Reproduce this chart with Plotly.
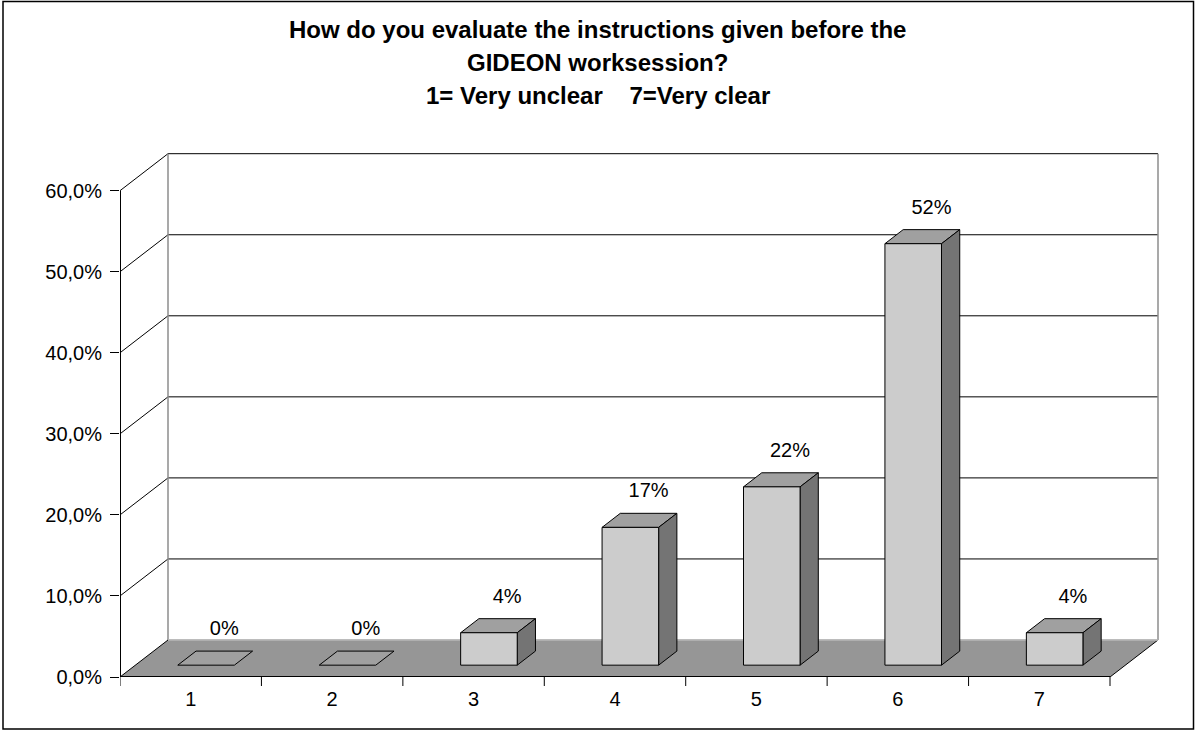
import plotly.graph_objects as go

# ---- data ----
categories = ["1", "2", "3", "4", "5", "6", "7"]
shares = [0, 0, 4, 17, 22, 52, 4]          # percent of answers per score
y_tick_values = [0, 10, 20, 30, 40, 50, 60]
y_tick_labels = ["0,0%", "10,0%", "20,0%", "30,0%", "40,0%", "50,0%", "60,0%"]
title_lines = [
    "How do you evaluate the instructions given before the",
    "GIDEON worksession?",
    "1= Very unclear    7=Very clear",
]

# ---- page / frame geometry (pixels) ----
W, H = 1195, 731
LEFT, RIGHT, TOP, BOTTOM = 120, 35, 150, 54
PLOT_W, PLOT_H = W - LEFT - RIGHT, H - TOP - BOTTOM
SLOT_PX = 990 / len(categories)          # width of one category slot
UNIT_PX = 486.3 / 60                     # pixels per percentage point
DEPTH_PX = (48, 37)                      # oblique depth of the floor
BAR_FRONT, BAR_BACK = 0.32, 0.70         # bar depth inside the floor
BAR_HALF = 0.2                           # half bar width in slot units

DX = DEPTH_PX[0] / SLOT_PX
DY = DEPTH_PX[1] / UNIT_PX
X0, X1 = 0.5, len(categories) + 0.5
YMAX = max(y_tick_values)

FONT = "Arial, Liberation Sans, sans-serif"
LABEL_SIZE = 20
FRONT_C, TOP_C, SIDE_C = "#cccccc", "#a0a0a0", "#747474"
FLOOR_C = "#969696"


def px_to_paper_x(px):
    return (px - LEFT) / PLOT_W


def px_to_paper_y(py):
    return (H - BOTTOM - py) / PLOT_H


fig = go.Figure()

shapes = []
# back wall gridlines and matching diagonals on the left wall
for v in y_tick_values[1:]:
    shapes.append(dict(type="line", xref="x", yref="y", layer="below",
                       x0=X0 + DX, y0=v + DY, x1=X1 + DX, y1=v + DY,
                       line=dict(color="black", width=1)))
    shapes.append(dict(type="line", xref="x", yref="y", layer="below",
                       x0=X0, y0=v, x1=X0 + DX, y1=v + DY,
                       line=dict(color="black", width=1)))
# wall edges
for xe in (X0 + DX, X1 + DX):
    shapes.append(dict(type="line", xref="x", yref="y", layer="below",
                       x0=xe, y0=DY, x1=xe, y1=YMAX + DY,
                       line=dict(color="#8c8c8c", width=1.5)))
# floor
floor_path = (f"M{X0},0 L{X1},0 L{X1 + DX},{DY} L{X0 + DX},{DY} Z")
shapes.append(dict(type="path", xref="x", yref="y", layer="below",
                   path=floor_path, fillcolor=FLOOR_C,
                   line=dict(color="black", width=1)))
shapes.append(dict(type="line", xref="x", yref="y", layer="below",
                   x0=X0 + DX, y0=DY, x1=X1 + DX, y1=DY,
                   line=dict(color="#d0d0d0", width=1.5)))
shapes.append(dict(type="line", xref="x", yref="y", layer="below",
                   x0=X0, y0=0, x1=X1, y1=0,
                   line=dict(color="black", width=2)))
# value axis line
shapes.append(dict(type="line", xref="x", yref="y",
                   x0=X0, y0=0, x1=X0, y1=YMAX,
                   line=dict(color="black", width=2)))
# category boundary ticks below the floor edge
for k in range(len(categories) + 1):
    xb = X0 + k
    shapes.append(dict(type="line", xref="x", yref="paper",
                       x0=xb, y0=0, x1=xb, y1=-9 / PLOT_H,
                       line=dict(color="black", width=1)))
# chart frame
shapes.append(dict(type="rect", xref="paper", yref="paper",
                   x0=px_to_paper_x(3), y0=px_to_paper_y(729),
                   x1=px_to_paper_x(1193.5), y1=px_to_paper_y(1.5),
                   line=dict(color="black", width=1.5)))

# ---- 3-D bars ----
front_x, front_y, top_x, top_y, side_x, side_y = [], [], [], [], [], []
for i, v in enumerate(shares, start=1):
    xf0, xf1 = i - BAR_HALF + BAR_FRONT * DX, i + BAR_HALF + BAR_FRONT * DX
    xb0, xb1 = i - BAR_HALF + BAR_BACK * DX, i + BAR_HALF + BAR_BACK * DX
    yfb, yft = BAR_FRONT * DY, v + BAR_FRONT * DY
    ybb, ybt = BAR_BACK * DY, v + BAR_BACK * DY
    top_x += [xf0, xf1, xb1, xb0, xf0, None]
    top_y += [yft, yft, ybt, ybt, yft, None]
    if v > 0:
        side_x += [xf1, xb1, xb1, xf1, xf1, None]
        side_y += [yfb, ybb, ybt, yft, yfb, None]
        front_x += [xf0, xf1, xf1, xf0, xf0, None]
        front_y += [yfb, yfb, yft, yft, yfb, None]

for xs, ys, col in ((top_x, top_y, TOP_C), (side_x, side_y, SIDE_C),
                    (front_x, front_y, FRONT_C)):
    fig.add_trace(go.Scatter(x=xs, y=ys, mode="lines", fill="toself",
                             fillcolor=col, line=dict(color="black", width=1),
                             hoverinfo="skip", showlegend=False))

# value labels above each bar
label_x = [i + BAR_BACK * DX for i in range(1, len(shares) + 1)]
label_y = [v + BAR_BACK * DY + 21 / UNIT_PX for v in shares]
fig.add_trace(go.Scatter(x=label_x, y=label_y, mode="text",
                         text=[f"{v}%" for v in shares],
                         textposition="middle center",
                         textfont=dict(family=FONT, size=LABEL_SIZE, color="black"),
                         cliponaxis=False, hoverinfo="skip", showlegend=False))

# title lines
annotations = []
for line, py in zip(title_lines, (30, 62, 96)):
    annotations.append(dict(text=f"<b>{line}</b>", xref="paper", yref="paper",
                            x=px_to_paper_x(597.5), y=px_to_paper_y(py),
                            xanchor="center", yanchor="middle", showarrow=False,
                            font=dict(family=FONT, size=24, color="black")))

fig.update_layout(
    width=W, height=H, autosize=False,
    margin=dict(l=LEFT, r=RIGHT, t=TOP, b=BOTTOM, pad=0),
    paper_bgcolor="white", plot_bgcolor="white",
    shapes=shapes, annotations=annotations,
    xaxis=dict(range=[X0, X0 + PLOT_W / SLOT_PX], tickmode="array",
               tickvals=list(range(1, len(categories) + 1)),
               ticktext=categories, ticks="", showgrid=False, zeroline=False,
               showline=False, ticklabelstandoff=8,
               tickfont=dict(family=FONT, size=LABEL_SIZE, color="black")),
    yaxis=dict(range=[0, PLOT_H / UNIT_PX], tickmode="array",
               tickvals=y_tick_values, ticktext=y_tick_labels,
               ticks="outside", ticklen=9, tickcolor="black", tickwidth=1,
               ticklabelstandoff=4,
               showgrid=False, zeroline=False, showline=False,
               tickfont=dict(family=FONT, size=LABEL_SIZE, color="black")),
)

fig.write_html("out.html")
